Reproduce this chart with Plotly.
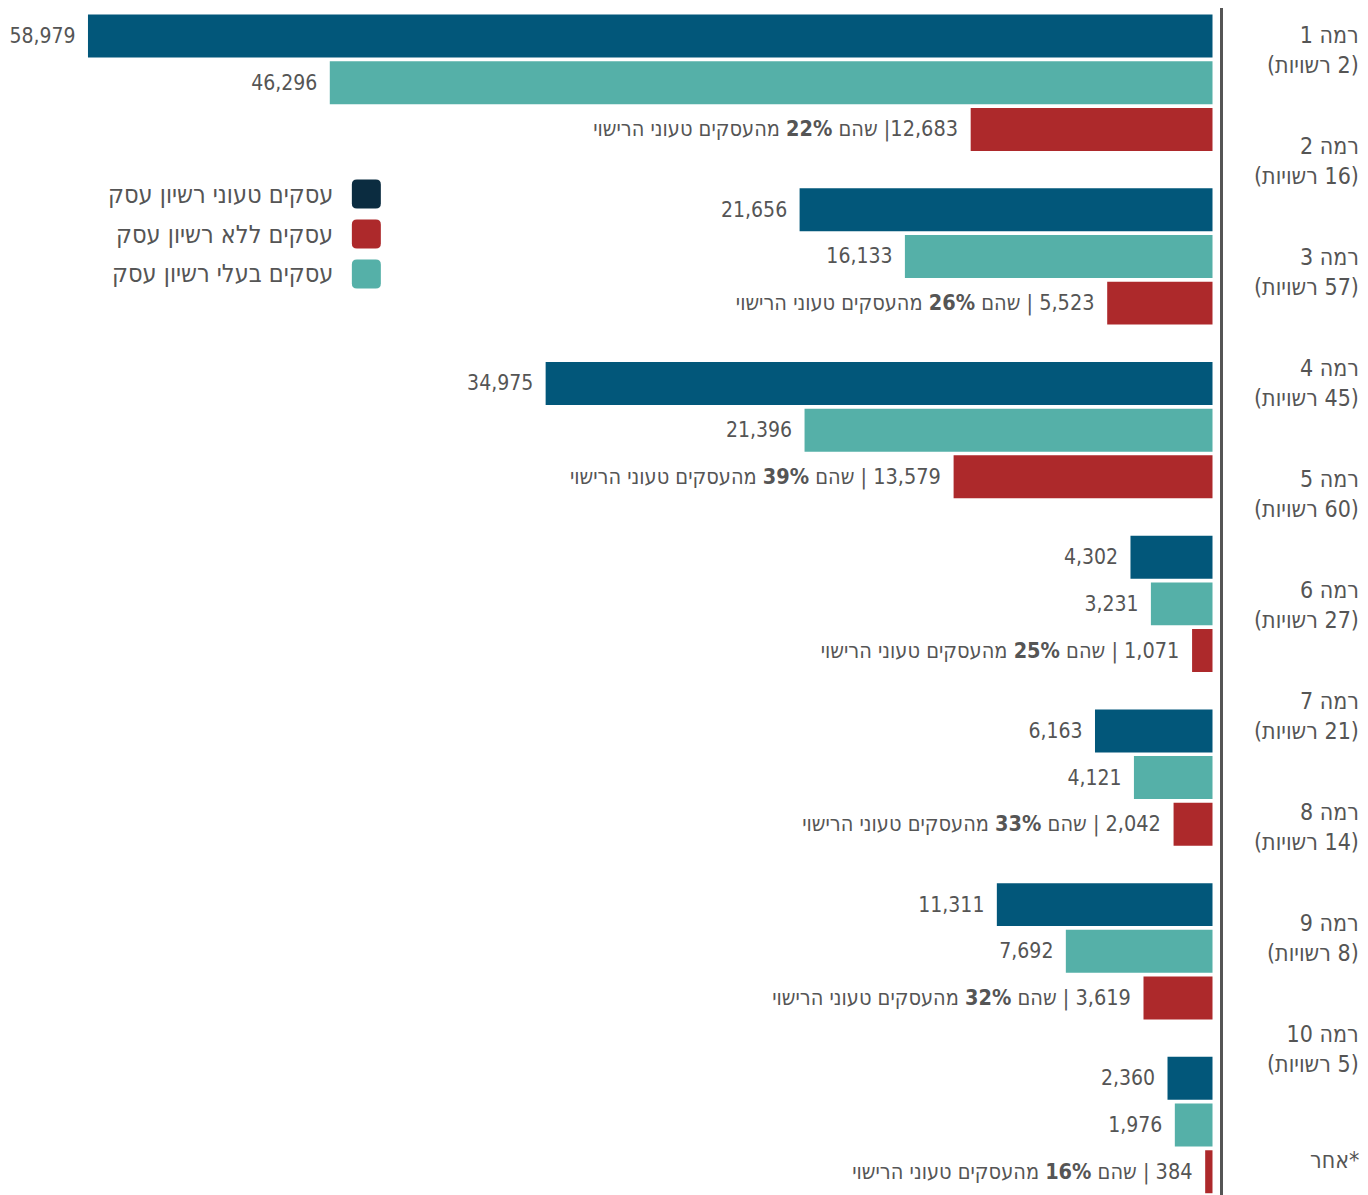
import plotly.graph_objects as go

# ---------------- data ----------------
dark_vals = [58979, 21656, 34975, 4302, 6163, 11311, 2360]      # עסקים טעוני רשיון עסק
teal_vals = [46296, 16133, 21396, 3231, 4121, 7692, 1976]       # עסקים בעלי רשיון עסק
red_vals = [12683, 5523, 13579, 1071, 2042, 3619, 384]          # עסקים ללא רשיון עסק
red_pct = [22, 26, 39, 25, 33, 32, 16]
red_sep = ["| ", " | ", " | ", " | ", " | ", " | ", " | "]

level_names = ["רמה 1", "רמה 2", "רמה 3", "רמה 4", "רמה 5", "רמה 6",
               "רמה 7", "רמה 8", "רמה 9", "רמה 10", "*אחר"]
level_subs = ["2 רשויות", "16 רשויות", "57 רשויות", "45 רשויות", "60 רשויות",
              "27 רשויות", "21 רשויות", "14 רשויות", "8 רשויות", "5 רשויות", None]

legend_names = ["עסקים טעוני רשיון עסק", "עסקים ללא רשיון עסק", "עסקים בעלי רשיון עסק"]

# ---------------- style ----------------
C_DARK = "#02577a"
C_TEAL = "#55b0a8"
C_RED = "#ad292b"
C_LEG_DARK = "#0b2c40"
legend_colors = [C_LEG_DARK, C_RED, C_TEAL]
TXT = "#555555"
FONT = "DejaVu Sans Condensed, Liberation Sans Narrow, DejaVu Sans, sans-serif"

OFF = 8  # page body margin
W, H = 1368 - OFF, 1195 - OFF
PW = 1220.5 - OFF
ML, MR, MT, MB = 0, W - PW, 0, 0
PH = H - MT - MB

GROUP_STEP = 3.72   # slots between groups
BAR_W = 0.92
SLOT_PX = 46.7
FIRST_PX = 36.0 - OFF
LABEL_FIRST_PX = 50.0 - OFF
LABEL_STEP_PX = 111.0
X_SCALE = 1125.0 / 58979.0   # px per unit
ZERO_PX = 1213.0 - OFF

RLM = "\u200f"
PAD = "\u2002"


def px_x(px):
    return (px - OFF - ML) / PW


def px_y(py):
    return 1 - (py - OFF - MT) / PH


n = len(dark_vals)
y_dark = [g * GROUP_STEP + 0 for g in range(n)]
y_teal = [g * GROUP_STEP + 1 for g in range(n)]
y_red = [g * GROUP_STEP + 2 for g in range(n)]

fig = go.Figure()

common = dict(orientation="h", width=BAR_W, textposition="outside",
              constraintext="none", cliponaxis=False,
              hoverinfo="skip", showlegend=False)
num_font = dict(family=FONT, size=21, color=TXT)
red_font = dict(family=FONT, size=21.5, color=TXT)

fig.add_trace(go.Bar(x=dark_vals, y=y_dark, marker=dict(color=C_DARK, line=dict(width=0)),
                     text=[f"{v:,}{PAD}" for v in dark_vals], textfont=num_font,
                     name=legend_names[0], **common))
fig.add_trace(go.Bar(x=teal_vals, y=y_teal, marker=dict(color=C_TEAL, line=dict(width=0)),
                     text=[f"{v:,}{PAD}" for v in teal_vals], textfont=num_font,
                     name=legend_names[2], **common))
fig.add_trace(go.Bar(x=red_vals, y=y_red, marker=dict(color=C_RED, line=dict(width=0)),
                     text=[f"{RLM}{PAD}{v:,}{s}שהם <b>{p}%</b> מהעסקים טעוני הרישוי"
                           for v, p, s in zip(red_vals, red_pct, red_sep)],
                     textfont=red_font, name=legend_names[1], **common))

# invisible trace on label axis
fig.add_trace(go.Scatter(x=[0] * len(level_names), y=list(range(len(level_names))),
                         yaxis="y2", mode="markers", marker=dict(opacity=0),
                         hoverinfo="skip", showlegend=False))

annotations = []
for i, (nm, sub) in enumerate(zip(level_names, level_subs)):
    txt = RLM + nm + RLM
    if sub:
        txt += "<br>" + RLM + "(" + sub + ")" + RLM
    annotations.append(dict(x=px_x(1362), xref="paper", y=i, yref="y2",
                            xanchor="right", yanchor="middle", align="right",
                            text=txt, showarrow=False,
                            font=dict(family=FONT, size=23, color=TXT)))

# custom legend (swatch to the right of the text)
shapes = []
leg_y = [194, 234, 274]
sw = 29
r = 5
for name, col, cy in zip(legend_names, legend_colors, leg_y):
    cx = 366.5
    x0, x1 = cx - sw / 2, cx + sw / 2
    y0, y1 = cy - sw / 2, cy + sw / 2
    X = px_x
    Y = px_y
    path = (f"M {X(x0 + r)},{Y(y0)} L {X(x1 - r)},{Y(y0)} Q {X(x1)},{Y(y0)} {X(x1)},{Y(y0 + r)} "
            f"L {X(x1)},{Y(y1 - r)} Q {X(x1)},{Y(y1)} {X(x1 - r)},{Y(y1)} "
            f"L {X(x0 + r)},{Y(y1)} Q {X(x0)},{Y(y1)} {X(x0)},{Y(y1 - r)} "
            f"L {X(x0)},{Y(y0 + r)} Q {X(x0)},{Y(y0)} {X(x0 + r)},{Y(y0)} Z")
    shapes.append(dict(type="path", path=path, xref="paper", yref="paper",
                       fillcolor=col, line=dict(width=0)))
    annotations.append(dict(x=px_x(335), xref="paper", y=px_y(cy), yref="paper",
                            xanchor="right", yanchor="middle", text=name, showarrow=False,
                            font=dict(family=FONT, size=25, color=TXT)))

x_left = ZERO_PX / X_SCALE
x_right = -(PW - ZERO_PX) / X_SCALE
y_top = (MT - FIRST_PX) / SLOT_PX
y_bot = (H - MB - FIRST_PX) / SLOT_PX
y2_top = (MT - LABEL_FIRST_PX) / LABEL_STEP_PX
y2_bot = (H - MB - LABEL_FIRST_PX) / LABEL_STEP_PX

fig.update_layout(
    width=W, height=H,
    margin=dict(l=ML, r=MR, t=MT, b=MB, pad=0),
    paper_bgcolor="white", plot_bgcolor="white",
    barmode="overlay",
    xaxis=dict(range=[x_left, x_right], showgrid=False, zeroline=False,
               showticklabels=False, showline=False, fixedrange=True),
    yaxis=dict(range=[y_bot, y_top], showgrid=False, zeroline=False,
               showticklabels=False, showline=True, side="right",
               linecolor="#555555", linewidth=3, ticks="", fixedrange=True),
    yaxis2=dict(range=[y2_bot, y2_top], overlaying="y", side="right",
                visible=False, fixedrange=True),
    annotations=annotations,
    shapes=shapes,
    font=dict(family=FONT, color=TXT),
)

fig.write_html("out.html")
